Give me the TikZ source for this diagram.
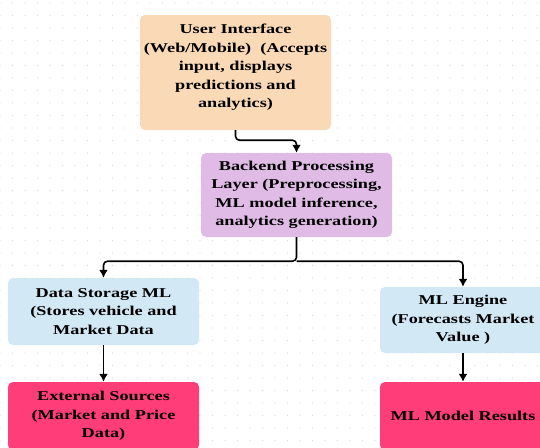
\documentclass[tikz,border=0pt]{standalone}
\usepackage{fontspec}
\setmainfont{Liberation Serif}[FakeStretch=1.35]
\usepackage{xcolor}
\usepackage{tikz}
\usetikzlibrary{arrows.meta, positioning, calc}

\definecolor{uipeach}{HTML}{F9D9B6}
\definecolor{backlilac}{HTML}{E0BBE6}
\definecolor{storeblue}{HTML}{D3E8F5}
\definecolor{sourcepink}{HTML}{FF3D78}

\begin{document}
\begin{tikzpicture}[
    x=1pt, y=-1pt,
    box/.style={rectangle, rounded corners=5pt, align=center, inner sep=0pt, font=\fontsize{13.5}{18.5}\selectfont\bfseries},
    iface/.style={box, fill=uipeach, minimum width=191pt, minimum height=115pt},
    backend/.style={box, fill=backlilac, minimum width=191pt, minimum height=84pt},
    store/.style={box, fill=storeblue, minimum width=191pt, minimum height=67pt},
    engine/.style={box, fill=storeblue, minimum width=166pt, minimum height=66pt},
    result/.style={box, fill=sourcepink, minimum width=191pt, minimum height=68pt},
    line/.style={draw, -{Latex[length=8pt,width=9pt]}, line width=1.6pt, rounded corners=4pt}
]
    \useasboundingbox (0,0) rectangle (540,447);
    \clip (0,0) rectangle (540,447);

    % Dotted background
    \foreach \gx in {0,12.5,...,540}
        \foreach \gy in {3,15.5,...,447}
            \fill[black!15] (\gx,\gy) circle (0.6pt);

    % Top: user interface
    \node (ui) [iface] at (235.5,72.5) {User Interface\\(Web/Mobile)\ \ (Accepts\\input, displays\\predictions and\\analytics)\\[-5pt]};

    % Middle: backend
    \node (backend) [backend] at (296.5,195) {Backend Processing\\Layer (Preprocessing,\\ML model inference,\\analytics generation)};

    % Left branch
    \node (storage) [store] at (103.5,311.5) {Data Storage ML\\(Stores vehicle and\\Market Data};
    \node (external) [result] at (103.5,416) {External Sources\\(Market and Price\\Data)};

    % Right branch
    \node (engine) [engine] at (463,320) {ML Engine\\(Forecasts Market\\Value )};
    \node (results) [result, minimum width=166pt] at (463,416) {ML Model Results};

    % Arrows
    \coordinate (split) at ($(backend.south)+(0,24)$);
    \path [line] (ui.south) -- ++(0,10) -| (backend.north);
    \path [line] (backend.south) -- (split) -| (storage.north);
    \path [line] (split) -| (engine.north);
    \path [line] (storage.south) -- (external.north);
    \path [line] (engine.south) -- (results.north);

\end{tikzpicture}
\end{document}
